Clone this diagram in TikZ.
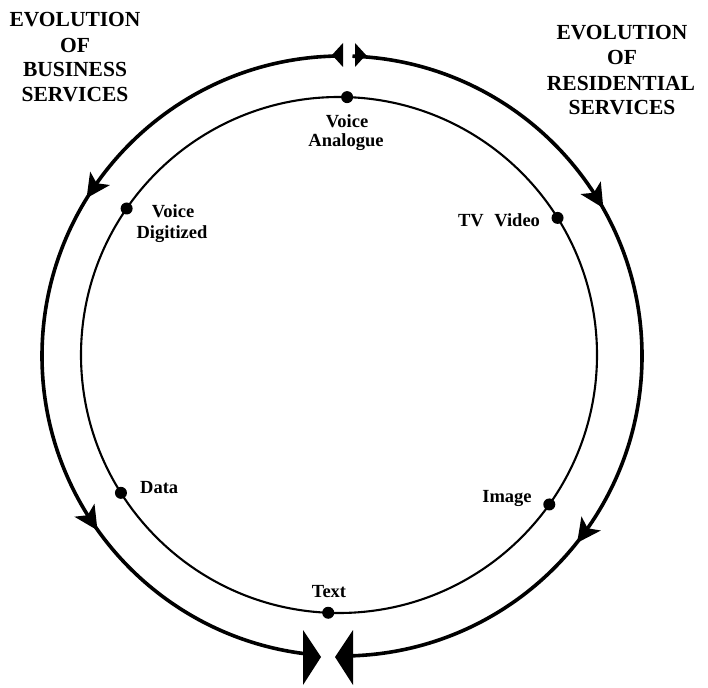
\documentclass[tikz,border=0pt]{standalone}
\usepackage{fontspec}
\setmainfont{Liberation Serif}
\begin{document}
\begin{tikzpicture}[x=1pt,y=1pt,
  outerline/.style={line width=3.6pt},
  innerline/.style={line width=2.1pt},
  dotmark/.style={circle,fill=black,inner sep=0pt,minimum size=12pt},
  lbl/.style={font=\fontsize{18.5}{20}\selectfont\bfseries,inner sep=0pt,anchor=base},
  ttl/.style={font=\fontsize{21.5}{25}\selectfont\bfseries,inner sep=0pt,anchor=base},
  headfill/.style={fill=black}
]
\useasboundingbox (0,0) rectangle (708,687);
\coordinate (OC) at (342,331);
\coordinate (IC) at (339,332);

% inner circle
\draw[innerline] (IC) circle[radius=258];

% outer left arc (business), counterclockwise from top to bottom
\coordinate (lt) at ([shift={(90:300)}]OC);
\draw[outerline] (lt) arc[start angle=90,end angle=265,radius=300];
% outer right arc (residential), clockwise from top to bottom
\coordinate (rt) at ([shift={(88:300)}]OC);
\draw[outerline] (rt) arc[start angle=88,end angle=-89,radius=300];

% mid arrowheads (stealth shapes along tangent)
\foreach \a/\r in {145.8/235.8, 213/303, 32/-58, -36/-126}{
  \fill[headfill,shift={([shift={(\a:300)}]OC)},rotate=\r]
    (13,0) -- (-11,12) -- (-5,0) -- (-11,-12) -- cycle;
}

% top heads
\fill[headfill] (343,644) -- (343,620) -- (332,632) -- cycle;
\fill[headfill] (355,644) -- (355,620) -- (366,632) -- cycle;
% bottom heads
\fill[headfill] (303,57) -- (303,2) -- (321,30) -- cycle;
\fill[headfill] (353,57) -- (353,2) -- (335,30) -- cycle;

% dots on inner circle
\node[dotmark] (va) at ([shift={(88.2:258)}]IC) {};
\node[dotmark] (vd) at ([shift={(145.4:258)}]IC) {};
\node[dotmark] (tv) at ([shift={(32.1:258)}]IC) {};
\node[dotmark] (da) at ([shift={(212.3:258)}]IC) {};
\node[dotmark] (im) at ([shift={(-35.4:258)}]IC) {};
\node[dotmark] (tx) at ([shift={(267.6:258)}]IC) {};

% labels
\node[lbl] (la1) at (347,559) {Voice};
\node[lbl] (la2) at (346,540) {Analogue};
\node[lbl] (ld1) at (173,469) {Voice};
\node[lbl] (ld2) at (172,448) {Digitized};
\node[lbl] (ltv) at (499,460) {TV\hspace{6pt} Video};
\node[lbl,anchor=base west] (lda) at (140,193) {Data};
\node[lbl] (lim) at (507,184) {Image};
\node[lbl] (ltx) at (329,89) {Text};

% titles
\node[ttl] (b1) at (75,660) {EVOLUTION};
\node[ttl] (b2) at (75,634) {OF};
\node[ttl] (b3) at (75,610) {BUSINESS};
\node[ttl] (b4) at (75,585) {SERVICES};
\node[ttl] (r1) at (622,647) {EVOLUTION};
\node[ttl] (r2) at (622,622) {OF};
\node[ttl] (r3) at (621,596) {RESIDENTIAL};
\node[ttl] (r4) at (622,572) {SERVICES};
\end{tikzpicture}
\end{document}
